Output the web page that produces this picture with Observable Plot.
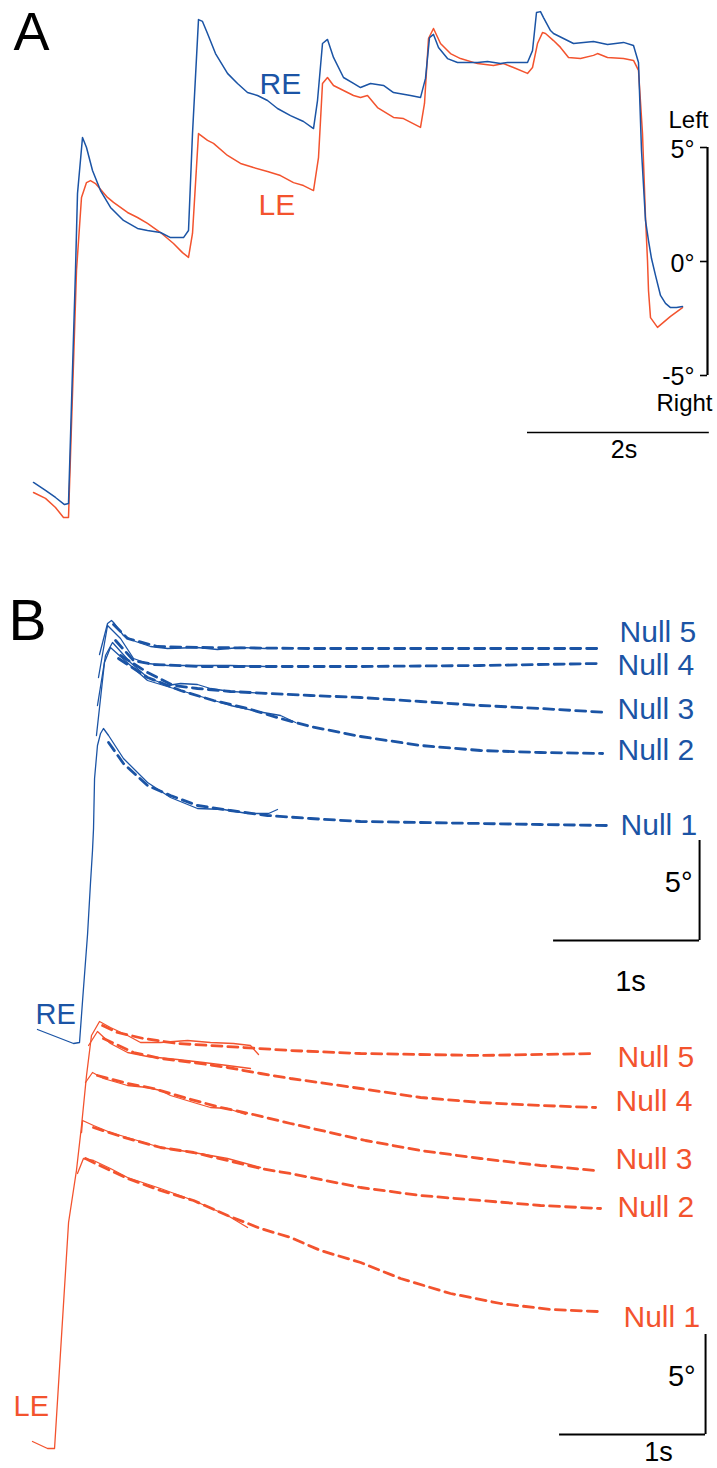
<!DOCTYPE html>
<html>
<head>
<meta charset="utf-8">
<script src="https://cdn.jsdelivr.net/npm/d3@7"></script>
<script src="https://cdn.jsdelivr.net/npm/@observablehq/plot@0.6"></script>
<style>
  html, body { margin: 0; padding: 0; background: #fff; }
  #chart { width: 717px; position: relative; }
  #chart svg { display: block; }
</style>
</head>
<body>
<div id="chart"></div>
<script>
// ---------- DATA ----------
// Panel A: time (ms), horizontal eye position (deg, + = left)
const A_RE = [[0,-9.69],[132,-10.04],[242,-10.35],[341,-10.66],[385,-10.61],[462,-0.39],[484,2.98],[539,5.44],[583,5.00],[649,3.99],[737,3.11],[847,2.37],[990,1.80],[1144,1.45],[1254,1.36],[1397,1.27],[1507,1.05],[1650,1.05],[1705,1.36],[1749,5.61],[1815,10.61],[1859,10.53],[1914,10.00],[2002,9.12],[2134,8.25],[2244,7.81],[2354,7.41],[2464,7.28],[2574,7.06],[2684,6.71],[2827,6.40],[2970,6.14],[3080,5.83],[3124,7.06],[3179,9.56],[3234,9.74],[3300,8.95],[3410,8.07],[3520,7.81],[3597,7.63],[3707,7.81],[3850,7.72],[3960,7.41],[4147,7.28],[4257,7.19],[4312,8.03],[4356,9.82],[4400,9.96],[4455,9.39],[4554,8.90],[4664,8.73],[4884,8.73],[4994,8.77],[5137,8.68],[5214,8.73],[5434,8.73],[5489,9.25],[5533,10.92],[5577,10.96],[5610,10.70],[5687,10.13],[5720,10.00],[5940,9.56],[6160,9.65],[6314,9.52],[6490,9.61],[6600,9.47],[6655,8.73],[6688,4.87],[6732,1.80],[6765,0.92],[6798,0.13],[6842,-0.61],[6897,-1.49],[6952,-1.84],[7007,-2.02],[7073,-2.02],[7139,-1.97]];
const A_LE = [[0,-10.13],[132,-10.39],[242,-10.79],[330,-11.23],[385,-11.23],[473,-0.39],[528,2.81],[583,3.46],[627,3.55],[682,3.42],[814,2.81],[880,2.59],[1034,2.15],[1144,1.93],[1254,1.67],[1397,1.27],[1540,0.79],[1639,0.39],[1705,0.18],[1749,1.23],[1815,5.61],[1914,5.31],[1980,5.18],[2134,4.65],[2277,4.30],[2420,4.12],[2574,3.95],[2717,3.77],[2860,3.46],[2970,3.33],[3080,3.11],[3135,4.56],[3179,7.81],[3234,8.07],[3300,7.72],[3410,7.50],[3520,7.28],[3597,7.19],[3674,7.28],[3784,6.75],[3960,6.32],[4070,6.27],[4257,5.88],[4301,6.93],[4345,9.78],[4400,10.22],[4477,9.56],[4587,9.12],[4697,8.90],[4884,8.68],[5060,8.60],[5170,8.68],[5280,8.51],[5434,8.25],[5489,8.51],[5544,9.56],[5599,10.04],[5632,10.00],[5720,9.69],[5797,9.39],[5885,8.95],[6017,8.90],[6160,9.04],[6204,9.12],[6314,8.95],[6490,8.90],[6600,8.82],[6655,8.38],[6699,5.61],[6732,1.93],[6754,0.04],[6765,-1.27],[6787,-2.46],[6864,-2.89],[7007,-2.41],[7139,-2.02]];

// Panel B: time (ms), position (deg) relative to each eye's baseline
const B_RE_trace1 = [[34,0.70],[281,0],[322,0.05],[343,2.15],[377,5.45],[397,8.00],[411,9.65],[418,10.75],[425,13.25],[445,14.90],[466,15.50],[486,15.75],[521,15.40],[623,14.25],[788,13.05],[945,12.30],[1130,11.75],[1308,11.70],[1473,11.50],[1617,11.50],[1678,11.70]];
const B_RE_fit1 = [[521,15.05],[623,14.00],[788,12.90],[945,12.40],[1130,11.90],[1356,11.65],[1610,11.40],[1904,11.25],[2247,11.10],[2658,11.05],[3069,11.00],[3480,10.95],[3939,10.90]];
const B_RE_trace2 = [[438,15.40],[493,19.05],[534,19.80],[671,18.90],[788,18.15],[945,17.80],[1130,17.40],[1356,16.90],[1541,16.60],[1699,16.40],[1802,16.05]];
const B_RE_fit2 = [[589,19.25],[788,18.30],[1014,17.65],[1240,17.15],[1473,16.75],[1699,16.25],[1904,15.85],[2247,15.35],[2658,14.90],[3069,14.65],[3480,14.55],[3905,14.50]];
const B_RE_trace3 = [[445,16.90],[500,19.40],[548,20.05],[671,19.05],[788,18.30],[925,17.90],[1014,18.00],[1130,17.95],[1219,17.75],[1356,17.60],[1596,17.50]];
const B_RE_fit3 = [[603,19.40],[788,18.55],[966,17.90],[1130,17.75],[1356,17.60],[1904,17.40],[2247,17.30],[2658,17.10],[3069,16.90],[3480,16.75],[3939,16.55]];
const B_RE_trace4 = [[452,18.30],[514,20.90],[603,20.25],[692,19.25],[788,19.00],[925,18.90],[1130,18.90],[1356,18.90],[1596,18.85]];
const B_RE_fit4 = [[569,20.15],[692,19.15],[829,18.95],[1151,18.85],[1904,18.85],[2247,18.85],[3069,18.90],[3877,19.00]];
const B_RE_trace5 = [[459,19.45],[514,21.00],[541,21.15],[555,21.05],[623,20.40],[706,20.10],[808,19.85],[925,19.75],[1130,19.80],[1267,19.70],[1425,19.80],[1596,19.75]];
const B_RE_fit5 = [[555,20.95],[651,20.25],[856,19.85],[1151,19.80],[1904,19.75],[3891,19.75]];

const B_LE_trace1 = [[308,13.75],[349,14.50],[418,14.40],[534,14.00],[651,13.55],[877,13.00],[1103,12.40],[1336,11.65],[1473,11.05]];
const B_LE_fit1 = [[363,14.50],[418,14.30],[651,13.50],[877,12.90],[1103,12.40],[1336,11.65],[1562,11.00],[1767,10.55],[1973,9.90],[2247,9.30],[2521,8.50],[2863,7.75],[3206,7.25],[3548,6.95],[3870,6.85]];
const B_LE_trace2 = [[336,15.80],[343,16.40],[418,16.15],[534,15.80],[651,15.55],[877,15.05],[1103,14.80],[1336,14.50],[1562,14.05]];
const B_LE_fit2 = [[418,16.05],[651,15.50],[877,15.05],[1103,14.80],[1336,14.40],[1562,14.00],[1767,13.75],[2247,13.05],[2658,12.65],[3069,12.40],[3480,12.15],[3891,12.00]];
const B_LE_trace3 = [[363,18.30],[411,18.80],[486,18.50],[651,18.15],[788,18.05],[877,17.90],[945,17.65],[1103,17.30],[1219,17.05],[1336,17.00],[1459,16.70]];
const B_LE_fit3 = [[445,18.65],[651,18.25],[829,18.00],[1062,17.50],[1288,17.05],[1514,16.70],[1767,16.25],[2281,15.40],[2658,14.90],[3069,14.50],[3480,14.15],[3857,13.90]];
const B_LE_trace4 = [[384,20.15],[445,20.85],[534,20.25],[651,19.80],[788,19.60],[993,19.45],[1171,19.30],[1336,19.15],[1493,19.00]];
const B_LE_fit4 = [[486,20.50],[692,19.80],[877,19.50],[1103,19.30],[1336,19.05],[1562,18.75],[1767,18.50],[2247,18.00],[2658,17.55],[3069,17.30],[3480,17.15],[3857,17.05]];
const B_LE_trace5 = [[0,0.35],[103,0],[151,0],[247,11.30],[301,13.90],[336,16.15],[370,18.65],[404,20.65],[459,21.35],[534,21.05],[651,20.65],[740,20.30],[877,20.30],[1062,20.40],[1219,20.30],[1377,20.25],[1493,20.15],[1548,19.70]];
const B_LE_fit5 = [[480,21.15],[582,20.80],[760,20.50],[993,20.25],[1219,20.15],[1445,20.05],[1767,19.90],[2247,19.75],[3069,19.65],[3857,19.75]];

const nullLabels = ["Null 1", "Null 2", "Null 3", "Null 4", "Null 5"];
const eyeLabels = ["RE", "LE"];
const panelLabels = ["A", "B"];
const degLabelsA = ["5°", "0°", "-5°"];
const dirLabels = ["Left", "Right"];
const timeBarLabels = ["2s", "1s"];

// ---------- STYLE / LAYOUT ----------
const BLUE = "#1b54a5", RED = "#f3532e";
const FONT = "'Liberation Sans', Arial, Helvetica, sans-serif";
const W = 717;
const HA = 560, HB = 908;
const px = d => d[0], py = d => d[1];

// Panel A scale: 11 ms per px, 22.8 px per degree
const A_x0 = 33, A_msPerPx = 11, A_y0 = 261, A_pxPerDeg = 22.8;
const plotA = Plot.plot({
  width: W, height: HA,
  margin: 0,
  style: { fontFamily: FONT, background: "white" },
  x: { domain: [-A_x0 * A_msPerPx, (W - A_x0) * A_msPerPx], axis: null },
  y: { domain: [-(HA - A_y0) / A_pxPerDeg, A_y0 / A_pxPerDeg], axis: null },
  marks: [
    Plot.line(A_LE, { x: px, y: py, stroke: RED, strokeWidth: 1.5 }),
    Plot.line(A_RE, { x: px, y: py, stroke: BLUE, strokeWidth: 1.5 }),
    Plot.text([panelLabels[0]], { frameAnchor: "top-left", dx: 13, dy: 11, lineAnchor: "top", textAnchor: "start", fontSize: 54, text: d => d }),
    Plot.text([eyeLabels[0]], { x: 2486, y: 8.29, text: d => d, fill: BLUE, fontSize: 30, textAnchor: "start", lineAnchor: "top" }),
    Plot.text([eyeLabels[1]], { x: 2475, y: 2.98, text: d => d, fill: RED, fontSize: 30, textAnchor: "start", lineAnchor: "top" }),
    // vertical degree scale bar
    Plot.ruleX([7414], { y1: -5, y2: 5, strokeWidth: 2.2, stroke: "black" }),
    Plot.ruleY([5, 0, -5], { x1: 7337, x2: 7414, strokeWidth: 1.6, stroke: "black" }),
    Plot.text(degLabelsA, { x: 7271, y: (d, i) => [5.31, 0.31, -4.65][i], text: d => d, textAnchor: "end", lineAnchor: "top", fontSize: 25 }),
    Plot.text([dirLabels[0]], { x: 7425, y: 6.62, text: d => d, textAnchor: "end", lineAnchor: "top", fontSize: 24 }),
    Plot.text([dirLabels[1]], { x: 7469, y: -5.79, text: d => d, textAnchor: "end", lineAnchor: "top", fontSize: 24 }),
    // 2 s time bar
    Plot.ruleY([-7.5], { x1: 5434, x2: 7434, strokeWidth: 1.5, stroke: "black" }),
    Plot.text([timeBarLabels[0]], { x: 6496, y: -7.85, text: d => d, textAnchor: "middle", lineAnchor: "top", fontSize: 25 })
  ]
});

// Panel B scale: 146 px per second, 20 px per degree
const B_x0 = 32, B_pxPerMs = 0.146, B_base = 888, B_pxPerDeg = 20;
const RE_OFFSET = 20.25; // vertical display offset of right-eye traces (deg)
const re = d => d[1] + RE_OFFSET;

const reTraces = [B_RE_trace1, B_RE_trace2, B_RE_trace3, B_RE_trace4, B_RE_trace5];
const reFits = [B_RE_fit1, B_RE_fit2, B_RE_fit3, B_RE_fit4, B_RE_fit5];
const leTraces = [B_LE_trace1, B_LE_trace2, B_LE_trace3, B_LE_trace4, B_LE_trace5];
const leFits = [B_LE_fit1, B_LE_fit2, B_LE_fit3, B_LE_fit4, B_LE_fit5];

const reLabelPos = [[4028, 31.75], [4007, 35.5], [4007, 37.55], [4007, 39.75], [4021, 41.4]];
const leLabelPos = [[4048, 7.15], [4007, 12.65], [3994, 15.05], [3994, 17.95], [4007, 20.15]];

const DASH = "10,6";
const plotB = Plot.plot({
  width: W, height: HB,
  margin: 0,
  style: { fontFamily: FONT, background: "white" },
  x: { domain: [-B_x0 / B_pxPerMs, (W - B_x0) / B_pxPerMs], axis: null },
  y: { domain: [-(HB - B_base) / B_pxPerDeg, B_base / B_pxPerDeg], axis: null },
  marks: [
    ...reTraces.map(t => Plot.line(t, { x: px, y: re, stroke: BLUE, strokeWidth: 1.3 })),
    ...reFits.map(t => Plot.line(t, { x: px, y: re, stroke: BLUE, strokeWidth: 2.8, strokeDasharray: DASH })),
    ...leTraces.map(t => Plot.line(t, { x: px, y: py, stroke: RED, strokeWidth: 1.3 })),
    ...leFits.map(t => Plot.line(t, { x: px, y: py, stroke: RED, strokeWidth: 2.8, strokeDasharray: DASH })),
    Plot.text(nullLabels, { x: (d, i) => reLabelPos[i][0], y: (d, i) => reLabelPos[i][1], text: d => d, fill: BLUE, fontSize: 30, textAnchor: "start", lineAnchor: "top" }),
    Plot.text(nullLabels, { x: (d, i) => leLabelPos[i][0], y: (d, i) => leLabelPos[i][1], text: d => d, fill: RED, fontSize: 30, textAnchor: "start", lineAnchor: "top" }),
    Plot.text([panelLabels[1]], { frameAnchor: "top-left", dx: 8, dy: 39, lineAnchor: "top", textAnchor: "start", fontSize: 57, text: d => d }),
    Plot.text([eyeLabels[0]], { x: 21, y: 22.25, text: d => d, fill: BLUE, fontSize: 29, textAnchor: "start", lineAnchor: "top" }),
    Plot.text([eyeLabels[1]], { x: -130, y: 2.65, text: d => d, fill: RED, fontSize: 29, textAnchor: "start", lineAnchor: "top" }),
    // upper scale bars (5°, 1 s)
    Plot.ruleX([4569], { y1: 25.4, y2: 30.4, strokeWidth: 2, stroke: "black" }),
    Plot.ruleY([25.4], { x1: 3569, x2: 4569, strokeWidth: 2, stroke: "black" }),
    Plot.text([degLabelsA[0]], { x: 4521, y: 28.85, text: d => d, textAnchor: "end", lineAnchor: "top", fontSize: 29 }),
    Plot.text([timeBarLabels[1]], { x: 4096, y: 23.9, text: d => d, textAnchor: "middle", lineAnchor: "top", fontSize: 29 }),
    // lower scale bars (5°, 1 s)
    Plot.ruleX([4610], { y1: 0.7, y2: 5.7, strokeWidth: 2, stroke: "black" }),
    Plot.ruleY([0.7], { x1: 3610, x2: 4610, strokeWidth: 2, stroke: "black" }),
    Plot.text([degLabelsA[0]], { x: 4542, y: 4.15, text: d => d, textAnchor: "end", lineAnchor: "top", fontSize: 29 }),
    Plot.text([timeBarLabels[1]], { x: 4288, y: 0.35, text: d => d, textAnchor: "middle", lineAnchor: "top", fontSize: 27 })
  ]
});

const root = document.getElementById("chart");
root.appendChild(plotA);
root.appendChild(plotB);
</script>
</body>
</html>
